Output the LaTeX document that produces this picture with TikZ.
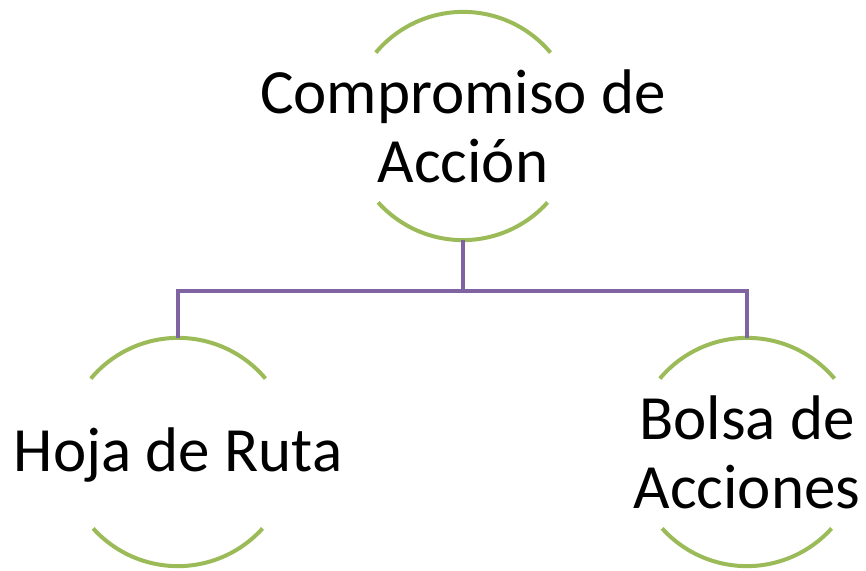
\documentclass[tikz,border=0pt]{standalone}
\usepackage{fontspec}
\setmainfont{Carlito}
\definecolor{arcgreen}{HTML}{9BBB59}
\definecolor{linkpurple}{HTML}{8064A2}
\begin{document}
\begin{tikzpicture}[x=1bp, y=-1bp,
  topic/.style={circle, minimum size=228bp, inner sep=0pt},
  caption/.style={align=center, inner sep=0pt,
    font=\fontsize{63bp}{69bp}\selectfont},
  rim/.style={draw=arcgreen, line width=4bp},
  link/.style={draw=linkpurple, line width=4bp}]
\useasboundingbox (0,0) rectangle (866,571);
\node [topic] (accion) at (463,126) {};
\node [topic] (hoja) at (178,452) {};
\node [topic] (bolsa) at (747,452) {};
\node [caption] (accion-text) at (accion) {Compromiso de\\Acción};
\node [caption, yshift=-3bp] (hoja-text) at (hoja) {Hoja de Ruta};
\node [caption] (bolsa-text) at (bolsa) {Bolsa de\\Acciones};
\draw [rim] (accion.40) arc [start angle=40, end angle=140, radius=114bp];
\draw [rim] (accion.222) arc [start angle=222, end angle=318, radius=114bp];
\draw [rim] (hoja.40) arc [start angle=40, end angle=140, radius=114bp];
\draw [rim] (hoja.222) arc [start angle=222, end angle=318, radius=114bp];
\draw [rim] (bolsa.40) arc [start angle=40, end angle=140, radius=114bp];
\draw [rim] (bolsa.222) arc [start angle=222, end angle=318, radius=114bp];
\coordinate (bus) at (463,291);
\draw [link] (accion.south) -- (bus);
\draw [link] (hoja.north) |- (bus) -| (bolsa.north);
\end{tikzpicture}
\end{document}
